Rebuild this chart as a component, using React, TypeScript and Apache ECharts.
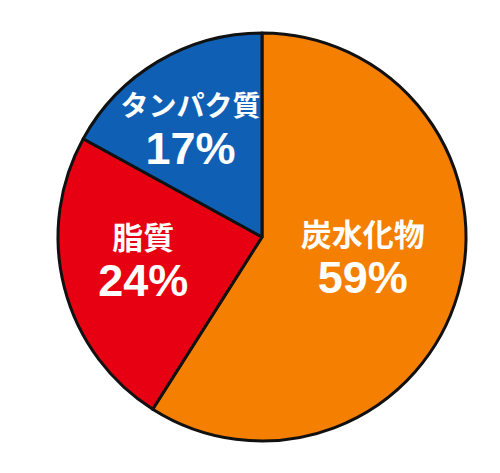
import React, { useEffect, useRef } from "react";
import * as echarts from "echarts";

const categories = ["炭水化物", "脂質", "タンパク質"];
const values = [59, 24, 17];
const colors = ["#F47F00", "#E60012", "#0F5FB4"];
const nameSizes = [31, 31, 28];
const labelShift = [
  [0, -10],
  [-17, -4],
  [-18, -19],
];

export default function App() {
  const ref = useRef<HTMLDivElement>(null);
  useEffect(() => {
    document.body.style.margin = "0";
    const chart = echarts.init(ref.current!, null, { renderer: "svg" });
    chart.setOption({
      animation: false,
      backgroundColor: "#ffffff",
      series: [
        {
          type: "pie",
          center: [262, 237],
          radius: [0, 204],
          startAngle: 90,
          clockwise: true,
          data: categories.map((c, i) => ({
            name: c,
            value: values[i],
            itemStyle: { color: colors[i] },
            label: {
              rich: {
                n: {
                  color: "#ffffff",
                  fontSize: nameSizes[i],
                  fontWeight: "bold",
                  fontFamily: "Noto Sans CJK JP",
                  lineHeight: 42,
                  align: "center",
                },
                p: {
                  color: "#ffffff",
                  fontSize: 45,
                  fontWeight: "bold",
                  fontFamily: "Liberation Sans",
                  lineHeight: 48,
                  align: "center",
                },
              },
            },
          })),
          itemStyle: { borderColor: "#111111", borderWidth: 3 },
          label: {
            show: true,
            position: "inside",
            formatter: (p: any) => `{n|${p.name}}\n{p|${p.value}%}`,
          },
          labelLine: { show: false },
          labelLayout: (params: any) => ({
            dx: labelShift[params.dataIndex][0],
            dy: labelShift[params.dataIndex][1],
          }),
          emphasis: { disabled: true },
        },
      ],
    });
    return () => chart.dispose();
  }, []);
  return <div ref={ref} style={{ width: 500, height: 473 }} />;
}
